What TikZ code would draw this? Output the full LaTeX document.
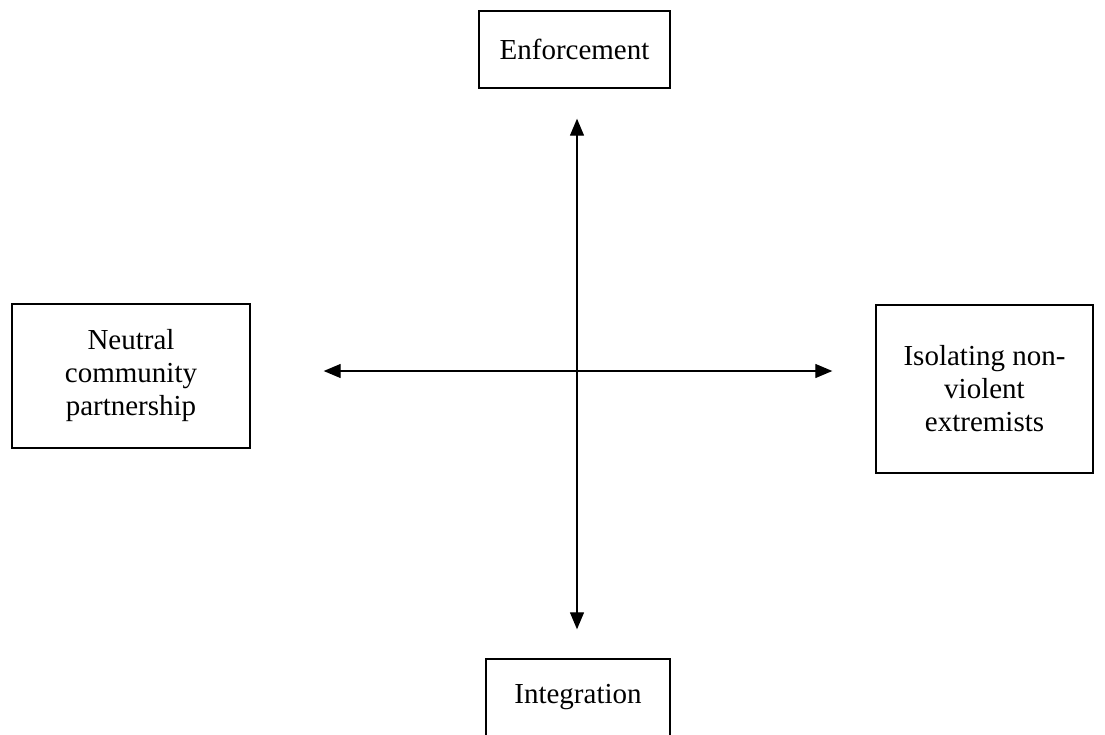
\documentclass[tikz,border=0pt]{standalone}
\usepackage{fontspec}
\setmainfont{Liberation Serif}
\usetikzlibrary{arrows.meta, positioning}

\begin{document}
\begin{tikzpicture}[x=1pt, y=-1pt,
		every node/.style={font=\fontsize{29}{33}\selectfont, align=center},
		>={Triangle[length=17pt, width=14pt]}]
		\useasboundingbox (0,0) rectangle (1105,734);
		\draw[line width=1.4pt] (574.5,49.5) node[inner sep=0pt, draw, minimum width=191pt, minimum height=77pt] (enf) {Enforcement}
		(131,376) node[inner sep=0pt, draw, minimum width=238pt, minimum height=144pt] (neut) {Neutral\\community\\partnership}
		(984.5,389) node[inner sep=0pt, draw, minimum width=217pt, minimum height=168pt] (isol) {Isolating non-\\violent\\extremists}
		(578,697.5) node[inner sep=0pt, draw, minimum width=184pt, minimum height=77pt] (integ) {Integration};
		
		\coordinate (ctr) at (577,371);
		\draw[<->, line width=1.3pt, shorten <=30pt, shorten >=29pt] (ctr |- enf.south) -- (ctr |- integ.north);
		\draw[<->, line width=1.3pt, shorten <=73pt, shorten >=43pt] (neut.east |- ctr) -- (isol.west |- ctr);
	\end{tikzpicture}
\end{document}
